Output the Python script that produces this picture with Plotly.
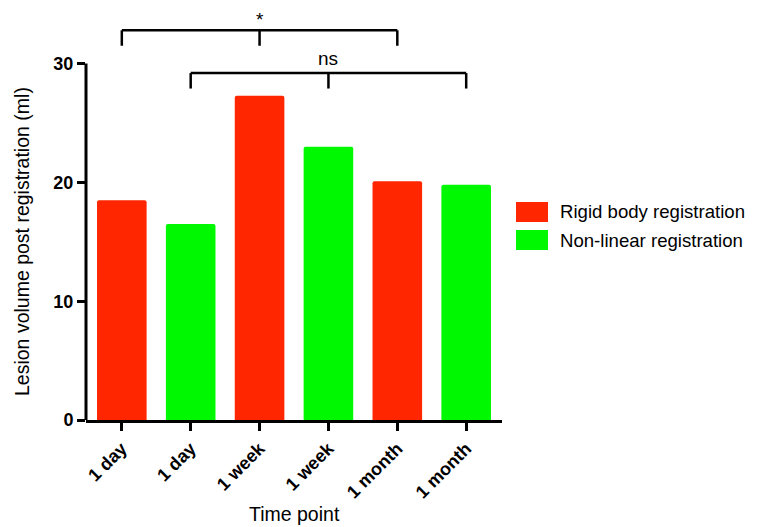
import plotly.graph_objects as go

# Data
tick_labels = ["1 day", "1 day", "1 week", "1 week", "1 month", "1 month"]
rigid_x = [0, 2, 4]
rigid_vals = [18.5, 27.3, 20.1]
nonlin_x = [1, 3, 5]
nonlin_vals = [16.5, 23.0, 19.8]
series_names = ["Rigid body registration", "Non-linear registration"]
series_colors = ["#FF2600", "#00F900"]
x_title = "Time point"
y_title = "Lesion volume post registration (ml)"

# Significance brackets: (left x, middle x, right x, bar y, leg bottom y, label)
brackets = [
    (0, 2, 4, 32.8, 31.5, "*"),
    (1, 3, 5, 29.2, 27.9, "ns"),
]

FONT = "Liberation Sans, Arial, sans-serif"

# Plot area in pixels (for placing the legend and titles in paper units)
W, H = 759, 527
L, R, T, B = 86, 257, 22, 107
PW, PH = W - L - R, H - T - B


def px(x):
    return (x - L) / PW


def py(y):
    return (H - B - y) / PH


fig = go.Figure()
fig.add_trace(go.Bar(x=rigid_x, y=rigid_vals, name=series_names[0],
                     marker=dict(color=series_colors[0], line_width=0, cornerradius=2),
                     width=0.72, showlegend=False))
fig.add_trace(go.Bar(x=nonlin_x, y=nonlin_vals, name=series_names[1],
                     marker=dict(color=series_colors[1], line_width=0, cornerradius=2),
                     width=0.72, showlegend=False))

shapes = []
annotations = []
lw = 2.5
for xl, xm, xr, yb, yleg, label in brackets:
    shapes.append(dict(type="line", xref="x", yref="y", x0=xl, x1=xr, y0=yb, y1=yb,
                       line=dict(color="black", width=lw)))
    for xx in (xl, xm, xr):
        shapes.append(dict(type="line", xref="x", yref="y", x0=xx, x1=xx, y0=yb, y1=yleg,
                           line=dict(color="black", width=lw)))
    annotations.append(dict(x=xm, y=yb, xref="x", yref="y", text=label, showarrow=False,
                            yanchor="bottom", yshift=-2 if label == "*" else 2,
                            font=dict(family=FONT, size=19, color="black")))

# Left axis spine only up to 30
shapes.append(dict(type="line", xref="paper", yref="y", x0=0, x1=0, y0=0, y1=30,
                   line=dict(color="black", width=3)))

# Legend drawn as swatches and labels
leg_y = [212, 240]
for name, color, yc in zip(series_names, series_colors, leg_y):
    shapes.append(dict(type="rect", xref="paper", yref="paper",
                       x0=px(516), x1=px(548), y0=py(yc + 10), y1=py(yc - 10),
                       fillcolor=color, line_width=0))
    annotations.append(dict(x=px(558), y=py(yc), xref="paper", yref="paper",
                            text=name, showarrow=False, xanchor="left", yanchor="middle",
                            font=dict(family=FONT, size=18.6, color="black")))

# Axis titles
annotations.append(dict(x=0.5, y=py(514), xref="paper", yref="paper", text=x_title,
                        showarrow=False, xanchor="center", yanchor="middle",
                        font=dict(family=FONT, size=19.5, color="black")))
annotations.append(dict(x=px(22), y=py(242), xref="paper", yref="paper", text=y_title,
                        showarrow=False, xanchor="center", yanchor="middle", textangle=-90,
                        font=dict(family=FONT, size=19.5, color="black")))

fig.update_layout(
    width=W, height=H,
    margin=dict(l=L, r=R, t=T, b=B),
    plot_bgcolor="white", paper_bgcolor="white",
    barmode="overlay",
    shapes=shapes, annotations=annotations,
    font=dict(family=FONT, color="black"),
    xaxis=dict(
        range=[-0.52, 5.52], tickvals=list(range(6)), ticktext=tick_labels,
        tickangle=-45, ticks="outside", ticklen=8, tickwidth=3, tickcolor="black",
        showline=True, linewidth=3, linecolor="black", showgrid=False, zeroline=False,
        tickfont=dict(family=FONT, size=18, color="black", weight=700),
        automargin=False,
    ),
    yaxis=dict(
        range=[0, 33.5], tickvals=[0, 10, 20, 30],
        ticks="outside", ticklen=8, tickwidth=3, tickcolor="black",
        showline=False, showgrid=False, zeroline=False,
        tickfont=dict(family=FONT, size=18, color="black", weight=700),
        automargin=False,
    ),
)

fig.write_html("out.html")
